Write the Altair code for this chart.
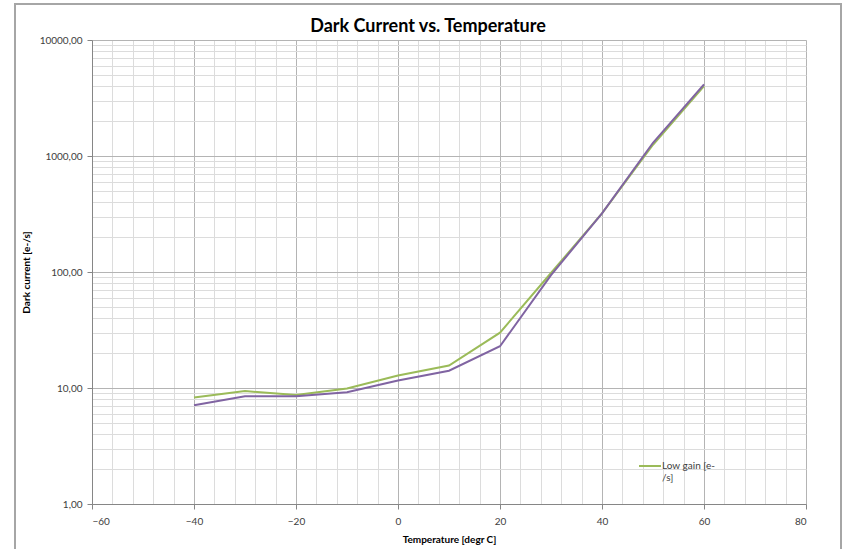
import altair as alt
import pandas as pd

temps = [-40, -30, -20, -10, 0, 10, 20, 30, 40, 50, 60]
low_gain = [8.3, 9.4, 8.7, 9.9, 12.8, 15.6, 30.0, 98.0, 320.0, 1250.0, 4000.0]
high_gain = [7.1, 8.5, 8.5, 9.2, 11.6, 14.1, 22.9, 94.0, 320.0, 1300.0, 4150.0]
series_names = ["Low gain [e-/s]", "High gain [e-/s]"]
series_colors = ["#9BBB59", "#8064A2"]

x_major = list(range(-60, 81, 20))
x_minor = list(range(-60, 81, 4))
y_major = [1, 10, 100, 1000, 10000]
y_minor = [k * 10 ** d for d in range(4) for k in range(2, 10)]

rows = []
for name, vals in zip(series_names, [low_gain, high_gain]):
    for t, v in zip(temps, vals):
        rows.append({"temp": t, "dc": v, "series": name})
df = pd.DataFrame(rows)

FONT = "Lato"
xscale = alt.Scale(domain=[-60, 80], nice=False, zero=False)
yscale = alt.Scale(type="log", domain=[1, 10000], nice=False)
cscale = alt.Scale(domain=series_names, range=series_colors)

minor = alt.Chart(df).mark_line(opacity=0).encode(
    x=alt.X("temp:Q", scale=xscale,
            axis=alt.Axis(values=x_minor, grid=True, gridColor="#dcdcdc", gridWidth=1,
                          labels=False, ticks=False, domain=False, title=None, orient="bottom")),
    y=alt.Y("dc:Q", scale=yscale,
            axis=alt.Axis(values=y_minor, grid=True, gridColor="#dcdcdc", gridWidth=1,
                          labels=False, ticks=False, domain=False, title=None, orient="left")),
    detail="series:N",
)

major = alt.Chart(df).mark_line(strokeWidth=2).encode(
    x=alt.X("temp:Q", scale=xscale,
            axis=alt.Axis(values=x_major, grid=True, gridColor="#b4b4b4", gridWidth=1,
                          labels=True, ticks=True, tickSize=5, tickColor="#868686",
                          domain=True, domainColor="#868686",
                          labelFont=FONT, labelFontSize=10, labelColor="#404040", labelPadding=7,
                          title="Temperature [degr C]", titleFont=FONT, titleFontSize=10,
                          titleFontWeight="bold", titleColor="#000000", titlePadding=8,
                          orient="bottom")),
    y=alt.Y("dc:Q", scale=yscale,
            axis=alt.Axis(values=y_major, grid=True, gridColor="#b4b4b4", gridWidth=1,
                          labels=True, ticks=True, tickSize=5, tickColor="#868686",
                          domain=True, domainColor="#868686",
                          labelExpr="replace(format(datum.value, '.2f'), '.', ',')",
                          labelFont=FONT, labelFontSize=10, labelColor="#404040", labelPadding=5,
                          title="Dark current [e-/s]", titleFont=FONT, titleFontSize=10,
                          titleFontWeight="bold", titleColor="#000000", titlePadding=8,
                          orient="left")),
    color=alt.Color("series:N", scale=cscale,
                    legend=alt.Legend(values=["Low gain [e-/s]"], title=None, orient="none",
                                      legendX=546, legendY=414, symbolType="stroke",
                                      symbolStrokeWidth=2, symbolSize=484, labelFont=FONT,
                                      labelFontSize=10, labelColor="#404040", labelOffset=0,
                                      labelExpr="datum.label == 'Low gain [e-/s]' ? ['Low gain [e-', '/s]'] : datum.label")),
)

frame = alt.Chart(alt.Data(values=[{}])).mark_rect(
    fill=None, stroke="#a6a6a6", strokeWidth=2
).encode(
    x=alt.value(-77), x2=alt.value(749), y=alt.value(-36), y2=alt.value(515)
)

chart = alt.layer(minor, major, frame).resolve_axis(
    x="independent", y="independent"
).properties(
    width=714, height=464,
    autosize=alt.AutoSizeParams(type="none"),
    padding={"left": 92, "top": 40, "right": 42, "bottom": 45},
    title=alt.TitleParams("Dark Current vs. Temperature", font=FONT, fontSize=18,
                          fontWeight="bold", color="#000000", anchor="middle", dx=-21, offset=-33),
    background="white",
).configure_view(stroke=None)

chart.save("out.html", embed_options={"renderer": "svg", "actions": False})
